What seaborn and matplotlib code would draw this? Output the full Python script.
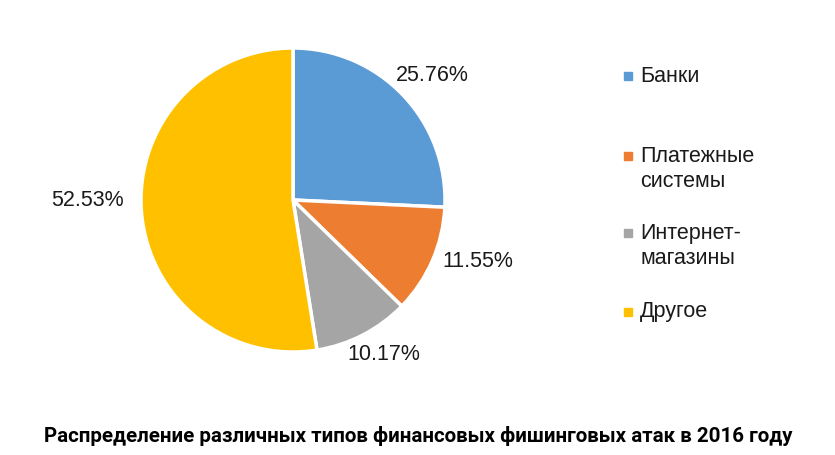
import numpy as np
import matplotlib
matplotlib.use("Agg")
import matplotlib.pyplot as plt
import matplotlib.patches as mpatches
import seaborn as sns

categories = ["Банки", "Платежные\nсистемы", "Интернет-\nмагазины", "Другое"]
values = [25.76, 11.55, 10.17, 52.53]
colors = ["#5B9BD5", "#ED7D31", "#A5A5A5", "#FFC000"]
title = "Распределение различных типов финансовых фишинговых атак в 2016 году"

sns.set_theme(style="white")
plt.rcParams['font.family'] = ['Liberation Sans', 'DejaVu Sans']

W, H = 835, 455
fig = plt.figure(figsize=(W / 100, H / 100), dpi=100)
cx, cy, r = 293, 200, 152
ax = fig.add_axes([(cx - r) / W, (H - cy - r) / H, 2 * r / W, 2 * r / H])

wedges, _ = ax.pie(values, colors=colors, startangle=90, counterclock=False,
                   radius=1.0, wedgeprops=dict(edgecolor="white", linewidth=2.5))
ax.set_xlim(-1, 1)
ax.set_ylim(-1, 1)
ax.set_aspect("equal")
ax.axis("off")

label_dist = [1.23, 1.28, 1.18, 1.35]
angle_shift = [-2, 5, 3, -4.5]
for w, v, d, s in zip(wedges, values, label_dist, angle_shift):
    ang = np.deg2rad((w.theta1 + w.theta2) / 2 + s)
    ax.text(d * np.cos(ang), d * np.sin(ang), f"{v:.2f}%", ha="center", va="center",
            fontsize=15.5, color="#1a1a1a", clip_on=False)

# legend
leg_y = [76, 169, 246, 312]
for lab, c, y in zip(categories, colors, leg_y):
    nlines = lab.count("\n") + 1
    first_y = y - (nlines - 1) * 13
    fig.patches.append(mpatches.Rectangle((624 / W, 1 - (first_y + 4) / H), 8 / W, 8 / H,
                                          transform=fig.transFigure, color=c, figure=fig))
    fig.text(640 / W, 1 - y / H, lab, ha="left", va="center", fontsize=15.5,
             color="#1a1a1a", linespacing=1.2)

t = fig.text(418 / W, 1 - 436 / H, title, ha="center", va="center", fontsize=18,
             fontweight="bold", color="black", family=['Roboto', 'DejaVu Sans'])
fig.canvas.draw()
bb = t.get_window_extent()
target = 752
if bb.width > target:
    t.set_fontsize(18 * target / bb.width)

fig.savefig("out.png", dpi=100, facecolor="white")
